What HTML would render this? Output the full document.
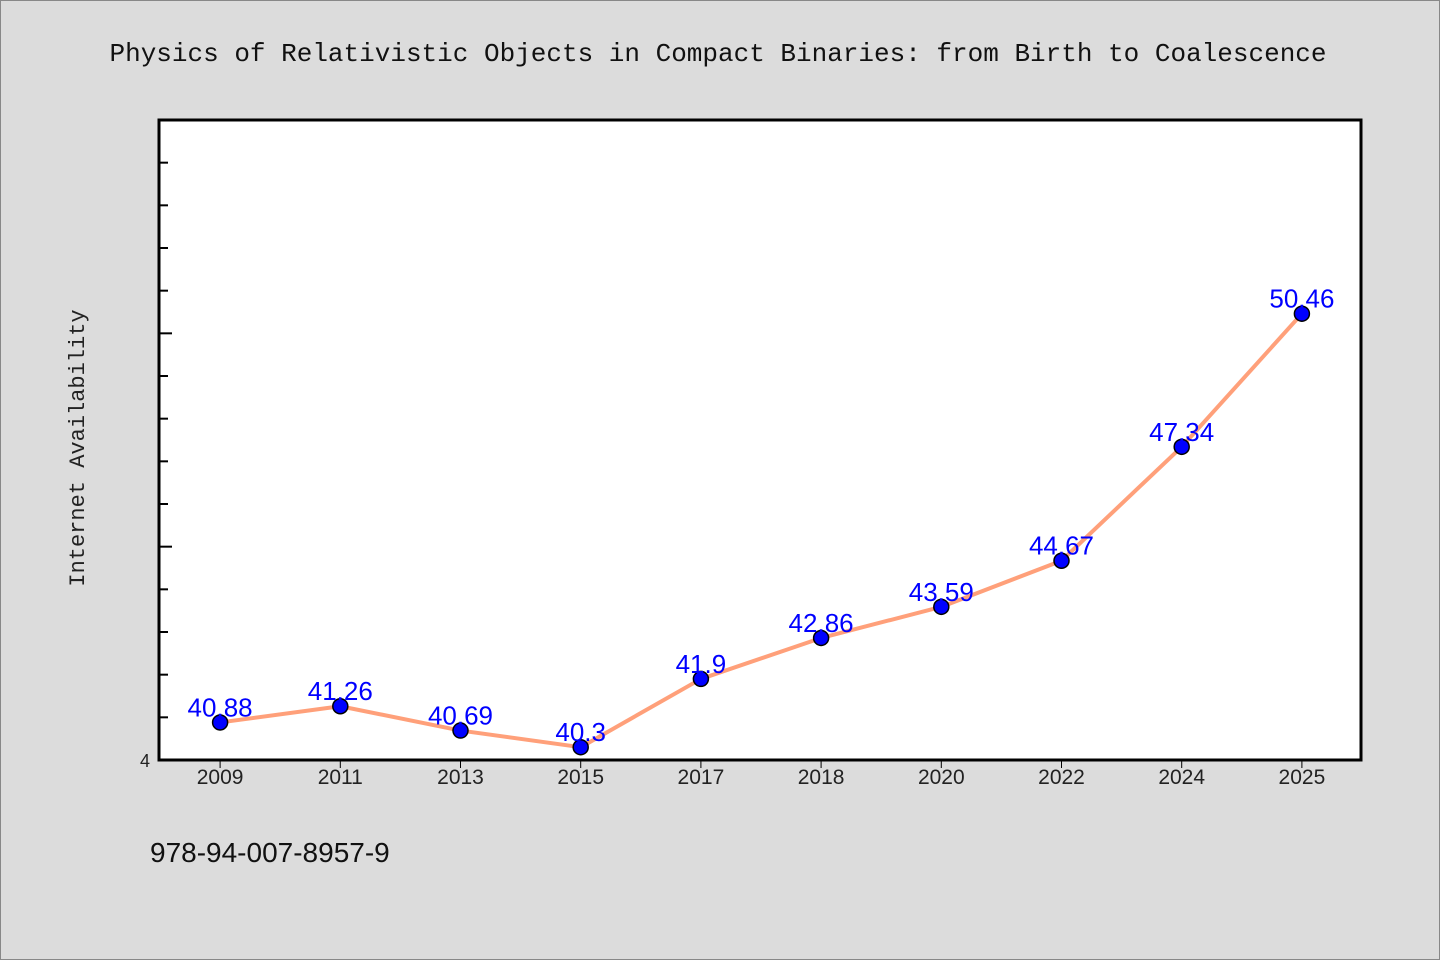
<!DOCTYPE html>
<html><head><meta charset="utf-8"><style>
body{margin:0;background:#dcdcdc;}
svg{display:block;font-family:"Liberation Sans","DejaVu Sans",sans-serif;}
</style></head><body>
<svg width="1440" height="960">
<rect x="0.5" y="0.5" width="1439" height="959" fill="#dcdcdc" stroke="#888"/>
<text x="718" y="61" text-anchor="middle" font-size="26" font-family="'Liberation Mono','DejaVu Sans Mono',monospace" fill="#111">Physics of Relativistic Objects in Compact Binaries: from Birth to Coalescence</text>
<rect x="159" y="120" width="1202" height="640" fill="#fff" stroke="#000" stroke-width="3"/>
<text transform="translate(84,448) rotate(-90)" text-anchor="middle" font-size="22" font-family="'Liberation Mono','DejaVu Sans Mono',monospace" fill="#222">Internet Availability</text>
<text x="150" y="767" text-anchor="end" font-size="18" fill="#222">4</text>
<text x="150" y="862" font-size="28" fill="#111">978-94-007-8957-9</text>
<g id="ticks"></g><g id="series"></g>
</svg>
<script>
const categories=["2009","2011","2013","2015","2017","2018","2020","2022","2024","2025"];
const values=[40.88,41.26,40.69,40.3,41.9,42.86,43.59,44.67,47.34,50.46];
const labels=["40.88","41.26","40.69","40.3","41.9","42.86","43.59","44.67","47.34","50.46"];
const yMin=40,yMax=55;
const ns="http://www.w3.org/2000/svg";
const L=159,R=1361,T=120,B=760;
const band=(R-L)/categories.length;
const x=i=>L+band*(i+0.5)+1;
const y=v=>B-(v-yMin)/(yMax-yMin)*(B-T);
function mk(t,a,p){const e=document.createElementNS(ns,t);for(const k in a)e.setAttribute(k,a[k]);p.appendChild(e);return e;}
const tg=document.getElementById('ticks'),sg=document.getElementById('series');
for(let v=yMin+1;v<yMax;v++){
  const len=v%5===0?12:8;
  const t=mk('line',{x1:L+1,x2:L+1+len,y1:y(v),y2:y(v),stroke:'#000','stroke-width':2},tg);
  
  
}
categories.forEach((c,i)=>{
  const t=mk('line',{x1:x(i),x2:x(i),y1:B,y2:B+8,stroke:'#000','stroke-width':1},tg);
  
  
  const tx=mk('text',{x:x(i),y:B+24,'text-anchor':'middle','font-size':21,fill:'#222'},tg);
  tx.textContent=c;
  
  
});
const pl=mk('polyline',{points:values.map((v,i)=>x(i)+','+y(v)).join(' '),fill:'none',stroke:'#ffa07a','stroke-width':4,'stroke-linejoin':'round'},sg);


values.forEach((v,i)=>{
  const c=mk('circle',{cx:x(i),cy:y(v),r:7.5,fill:'#0000ff',stroke:'#000','stroke-width':1.5},sg);
  
  
  const t=mk('text',{x:x(i),y:y(v)-6,'text-anchor':'middle','font-size':26,fill:'#0000ff'},sg);
  t.textContent=labels[i];
  
  
});
</script>
</body></html>
